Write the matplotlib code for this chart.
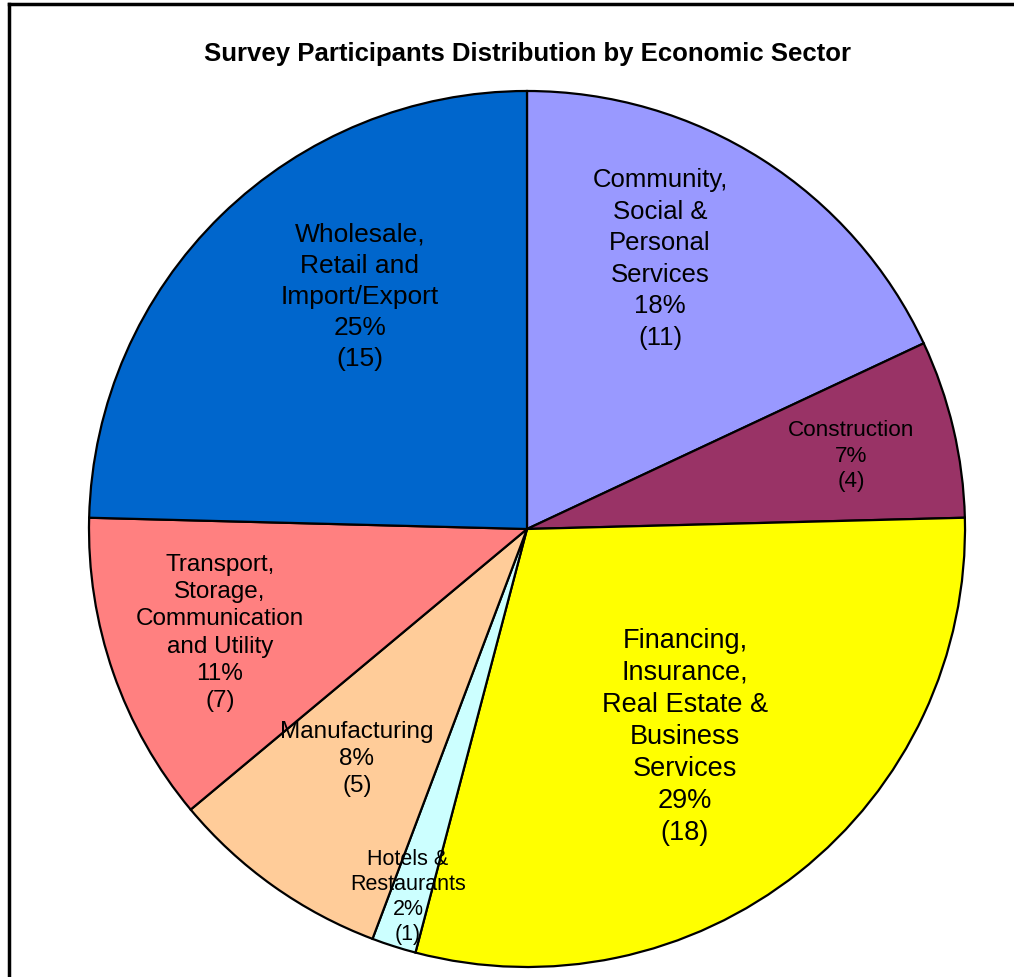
import matplotlib
matplotlib.use('Agg')
import matplotlib.pyplot as plt
from matplotlib.lines import Line2D

plt.rcParams['font.family'] = ['Liberation Sans', 'DejaVu Sans']

# data, clockwise from 12 o'clock
sectors = ['Community,\nSocial &\nPersonal\nServices',
           'Construction',
           'Financing,\nInsurance,\nReal Estate &\nBusiness\nServices',
           'Hotels &\nRestaurants',
           'Manufacturing',
           'Transport,\nStorage,\nCommunication\nand Utility',
           'Wholesale,\nRetail and\nImport/Export']
counts = [11, 4, 18, 1, 5, 7, 15]
percents = [18, 7, 29, 2, 8, 11, 25]
colors = ['#9999FF', '#993366', '#FFFF00', '#CCFFFF', '#FFCC99', '#FF8080', '#0066CC']

# label centres in pixels, font sizes, line spacing
label_px = [(660, 259), (851, 456), (685, 737), (408, 897), (357, 759), (220, 633), (360, 297)]
label_fs = [18.5, 16.2, 19.5, 15.5, 17.5, 17.5, 19]
label_ls = [1.4, 1.25, 1.3, 1.27, 1.28, 1.3, 1.37]

W, H = 1014, 978
cx, cy, R = 527, 530, 438

fig = plt.figure(figsize=(W / 100, H / 100), dpi=100)
fig.patch.set_facecolor('white')

ax = fig.add_axes([(cx - R) / W, (H - cy - R) / H, 2 * R / W, 2 * R / H])
wedges, _ = ax.pie(counts, colors=colors, startangle=90, counterclock=False,
                   wedgeprops=dict(edgecolor='black', linewidth=1.6))
ax.set_xlim(-1, 1)
ax.set_ylim(-1, 1)
ax.set_aspect('equal')
for w in wedges:
    w.set_clip_on(False)

for name, n, p, (px, py), fs, ls in zip(sectors, counts, percents, label_px, label_fs, label_ls):
    txt = '%s\n%d%%\n(%d)' % (name, p, n)
    ax.text((px - cx) / R, (cy - py) / R, txt, ha='center', va='center',
            fontsize=fs, linespacing=ls, color='black')

fig.text(527 / W, 1 - 54 / H, 'Survey Participants Distribution by Economic Sector',
         ha='center', va='center', fontsize=18.5, fontweight='bold')

# chart frame (left and top edges only visible)
fig.add_artist(Line2D([9 / W, 9 / W], [0, 1 - 5 / H], transform=fig.transFigure,
                      color='black', linewidth=2.5))
fig.add_artist(Line2D([9 / W, 1], [1 - 5 / H, 1 - 5 / H], transform=fig.transFigure,
                      color='black', linewidth=2.5))

fig.savefig('out.png', dpi=100)
